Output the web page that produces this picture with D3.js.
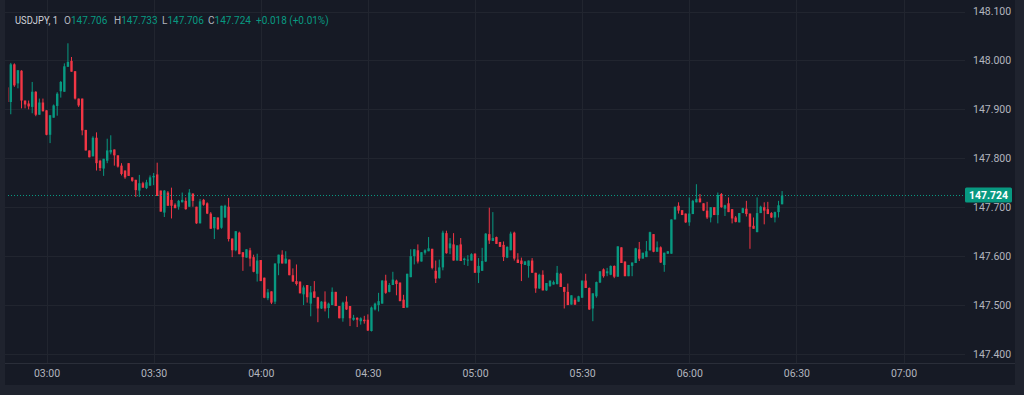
<!DOCTYPE html>
<html>
<head>
<meta charset="utf-8">
<script src="https://cdn.jsdelivr.net/npm/d3@7"></script>
<style>
  html, body { margin: 0; padding: 0; background: #1f232e; }
  svg { display: block; }
  text { font-family: Roboto, "Liberation Sans", sans-serif; }
</style>
</head>
<body>
<svg id="chart" width="1024" height="395"></svg>
<script>
// ---- DATA (1-minute USDJPY candles, first candle 02:49) ----
const symbol = "USDJPY, 1";
const startTime = "02:49";
const opens = [
147.945,147.915,147.992,147.953,147.979,147.918,147.912,147.905,147.936,147.889,
147.914,147.898,147.848,147.883,147.907,147.937,147.936,147.987,147.999,147.978,
147.922,147.922,147.858,147.816,147.804,147.842,147.795,147.779,147.795,147.812,
147.818,147.806,147.785,147.775,147.790,147.761,147.756,147.734,147.749,147.739,
147.744,147.761,147.767,147.734,147.689,147.730,147.715,147.705,147.701,147.710,
147.713,147.701,147.728,147.701,147.667,147.715,147.708,147.687,147.657,147.679,
147.658,147.679,147.701,147.636,147.612,147.648,147.608,147.597,147.612,147.598,
147.564,147.592,147.556,147.514,147.528,147.507,147.585,147.603,147.585,147.593,
147.561,147.549,147.548,147.522,147.541,147.503,147.528,147.516,147.493,147.507,
147.494,147.500,147.527,147.498,147.473,147.507,147.498,147.470,147.474,147.467,
147.470,147.470,147.447,147.491,147.500,147.503,147.550,147.527,147.541,147.550,
147.546,147.511,147.495,147.557,147.600,147.612,147.589,147.607,147.610,147.615,
147.570,147.555,147.577,147.647,147.616,147.624,147.591,147.624,147.592,147.591,
147.591,147.605,147.566,147.570,147.589,147.645,147.631,147.639,147.629,147.623,
147.597,147.612,147.648,147.593,147.591,147.582,147.580,147.591,147.566,147.534,
147.562,147.530,147.539,147.542,147.543,147.564,147.537,147.527,147.501,147.511,
147.507,147.515,147.550,147.535,147.493,147.518,147.546,147.573,147.565,147.562,
147.580,147.558,147.618,147.589,147.559,147.580,147.586,147.614,147.595,147.598,
147.612,147.645,147.609,147.618,147.582,147.605,147.605,147.675,147.703,147.694,
147.687,147.669,147.686,147.710,147.718,147.708,147.693,147.679,147.700,147.684,
147.727,147.697,147.708,147.696,147.679,147.669,147.688,147.697,147.687,147.662,
147.649,147.688,147.700,147.696,147.688,147.679,147.690,147.706];
const highs = [
147.950,147.995,147.994,147.980,147.980,147.918,147.918,147.956,147.937,147.922,
147.922,147.898,147.888,147.910,147.935,147.958,147.994,148.035,148.007,147.978,
147.922,147.922,147.858,147.816,147.845,147.853,147.797,147.799,147.840,147.847,
147.818,147.806,147.790,147.775,147.790,147.761,147.756,147.766,147.752,147.756,
147.765,147.770,147.791,147.734,147.735,147.733,147.740,147.708,147.715,147.730,
147.720,147.737,147.728,147.701,147.717,147.717,147.710,147.690,147.680,147.679,
147.703,147.705,147.719,147.636,147.651,147.650,147.608,147.614,147.617,147.603,
147.605,147.592,147.556,147.533,147.528,147.585,147.603,147.612,147.610,147.593,
147.575,147.583,147.548,147.540,147.541,147.539,147.549,147.517,147.508,147.528,
147.505,147.536,147.527,147.498,147.507,147.518,147.498,147.480,147.475,147.475,
147.478,147.481,147.497,147.505,147.525,147.551,147.562,147.545,147.568,147.552,
147.546,147.521,147.564,147.614,147.614,147.624,147.608,147.614,147.639,147.615,
147.591,147.593,147.652,147.652,147.637,147.647,147.622,147.637,147.597,147.602,
147.606,147.606,147.596,147.617,147.647,147.699,147.690,147.640,147.629,147.630,
147.620,147.650,147.650,147.606,147.597,147.590,147.591,147.596,147.566,147.564,
147.571,147.545,147.550,147.550,147.580,147.566,147.537,147.544,147.520,147.515,
147.519,147.550,147.564,147.536,147.524,147.548,147.569,147.575,147.576,147.581,
147.581,147.620,147.618,147.589,147.582,147.587,147.617,147.629,147.607,147.631,
147.650,147.645,147.630,147.620,147.607,147.610,147.675,147.701,147.710,147.694,
147.687,147.720,147.715,147.747,147.727,147.708,147.711,147.700,147.700,147.730,
147.729,147.705,147.720,147.696,147.682,147.688,147.699,147.713,147.687,147.679,
147.720,147.703,147.710,147.711,147.690,147.691,147.713,147.733];
const lows = [
147.910,147.890,147.946,147.943,147.902,147.902,147.900,147.892,147.886,147.889,
147.896,147.847,147.831,147.883,147.887,147.924,147.936,147.987,147.977,147.920,
147.905,147.847,147.816,147.802,147.804,147.775,147.774,147.764,147.790,147.808,
147.785,147.781,147.765,147.758,147.764,147.752,147.721,147.721,147.740,147.737,
147.744,147.745,147.723,147.691,147.680,147.703,147.677,147.698,147.695,147.710,
147.695,147.701,147.701,147.666,147.667,147.703,147.686,147.656,147.635,147.654,
147.656,147.678,147.630,147.598,147.610,147.604,147.570,147.597,147.579,147.567,
147.548,147.549,147.514,147.510,147.502,147.502,147.561,147.585,147.585,147.561,
147.548,147.540,147.524,147.500,147.505,147.477,147.515,147.465,147.492,147.487,
147.473,147.500,147.498,147.473,147.466,147.490,147.457,147.468,147.455,147.460,
147.462,147.447,147.446,147.489,147.487,147.503,147.523,147.526,147.541,147.520,
147.508,147.494,147.495,147.557,147.583,147.585,147.589,147.603,147.610,147.573,
147.545,147.554,147.571,147.605,147.604,147.591,147.591,147.590,147.582,147.580,
147.591,147.566,147.545,147.570,147.588,147.625,147.631,147.625,147.619,147.590,
147.596,147.612,147.591,147.586,147.549,147.582,147.556,147.566,147.525,147.533,
147.530,147.529,147.537,147.542,147.542,147.537,147.493,147.500,147.501,147.500,
147.507,147.515,147.535,147.490,147.467,147.515,147.545,147.556,147.559,147.561,
147.555,147.558,147.586,147.559,147.559,147.559,147.586,147.590,147.595,147.598,
147.611,147.608,147.609,147.586,147.568,147.605,147.605,147.675,147.687,147.684,
147.668,147.662,147.686,147.710,147.710,147.692,147.676,147.669,147.684,147.667,
147.699,147.682,147.690,147.667,147.669,147.669,147.688,147.681,147.615,147.656,
147.649,147.688,147.665,147.686,147.678,147.669,147.679,147.706];
const closes = [
147.915,147.992,147.949,147.980,147.918,147.910,147.906,147.936,147.889,147.914,
147.896,147.848,147.888,147.908,147.932,147.956,147.988,147.997,147.977,147.922,
147.908,147.857,147.816,147.802,147.842,147.790,147.780,147.799,147.816,147.817,
147.806,147.783,147.768,147.761,147.764,147.754,147.735,147.749,147.740,147.751,
147.761,147.764,147.723,147.691,147.734,147.703,147.703,147.698,147.713,147.715,
147.696,147.730,147.713,147.667,147.712,147.705,147.687,147.656,147.680,147.655,
147.703,147.703,147.635,147.612,147.651,147.604,147.598,147.614,147.595,147.568,
147.591,147.549,147.515,147.526,147.505,147.585,147.603,147.585,147.595,147.561,
147.548,147.543,147.524,147.536,147.516,147.526,147.515,147.493,147.507,147.493,
147.503,147.527,147.498,147.473,147.505,147.491,147.473,147.474,147.470,147.473,
147.467,147.448,147.495,147.503,147.508,147.550,147.525,147.541,147.552,147.543,
147.508,147.494,147.564,147.600,147.614,147.589,147.608,147.612,147.616,147.576,
147.554,147.577,147.648,147.606,147.626,147.591,147.622,147.590,147.595,147.593,
147.604,147.566,147.580,147.590,147.646,147.632,147.637,147.625,147.619,147.598,
147.619,147.646,147.595,147.586,147.584,147.589,147.591,147.566,147.534,147.562,
147.530,147.545,147.550,147.547,147.566,147.537,147.527,147.500,147.520,147.501,
147.518,147.550,147.535,147.491,147.524,147.547,147.569,147.559,147.569,147.580,
147.558,147.620,147.586,147.559,147.582,147.587,147.616,147.595,147.607,147.610,
147.649,147.609,147.618,147.587,147.607,147.610,147.675,147.701,147.693,147.684,
147.669,147.687,147.713,147.717,147.710,147.693,147.679,147.700,147.684,147.725,
147.700,147.704,147.690,147.677,147.670,147.688,147.698,147.686,147.660,147.656,
147.688,147.701,147.693,147.686,147.679,147.690,147.704,147.724];
const priceTicks = [147.4, 147.5, 147.6, 147.7, 147.8, 147.9, 148.0, 148.1];
const timeTicks = ["03:00","03:30","04:00","04:30","05:00","05:30","06:00","06:30","07:00"];
const lastPrice = 147.724;
const change = "+0.018 (+0.01%)";

// ---- LAYOUT ----
const W = 1024, H = 395;
const pane = {left: 5, top: 0, right: 1015, bottom: 385};
const plotRight = 965, axisY = 363;
const upColor = "#089981", downColor = "#f23645";
const gridColor = "#21252f";
const axisText = "#b2b5be";
const fontFam = "Roboto, 'Liberation Sans', sans-serif";

const parseT = d3.timeParse("%H:%M");
const t0 = parseT(startTime);
const dates = opens.map((_, i) => d3.timeMinute.offset(t0, i));
const candles = opens.map((o, i) => ({t: dates[i], o, h: highs[i], l: lows[i], c: closes[i]}));

const x = d3.scaleTime().domain([parseT("03:00"), parseT("07:00")]).range([46.5, 903.5]);
const y = d3.scaleLinear().domain([147.4, 148.1]).range([354, 11.5]);

const svg = d3.select("#chart");
svg.append("rect").attr("x", 0).attr("y", 0).attr("width", W).attr("height", H).attr("fill", "#1f232e");
svg.append("rect").attr("x", pane.left).attr("y", pane.top)
  .attr("width", pane.right - pane.left).attr("height", pane.bottom - pane.top)
  .attr("fill", "#161a25");

svg.append("defs").append("clipPath").attr("id", "plotclip")
  .append("rect").attr("x", 8).attr("y", 0).attr("width", plotRight - 8).attr("height", axisY);

// grid
const grid = svg.append("g");
grid.selectAll("line.h").data(priceTicks).join("line")
  .attr("x1", pane.left).attr("x2", plotRight)
  .attr("y1", d => Math.round(y(d)) + 0.5).attr("y2", d => Math.round(y(d)) + 0.5)
  .attr("stroke", gridColor).attr("stroke-width", 1);
grid.selectAll("line.v").data(timeTicks).join("line")
  .attr("x1", d => Math.round(x(parseT(d))) + 0.5).attr("x2", d => Math.round(x(parseT(d))) + 0.5)
  .attr("y1", pane.top).attr("y2", axisY)
  .attr("stroke", gridColor).attr("stroke-width", 1);

// time axis separator
svg.append("line").attr("x1", pane.left).attr("x2", pane.right)
  .attr("y1", axisY + 0.5).attr("y2", axisY + 0.5).attr("stroke", "#2a2e39");

// candles
const g = svg.append("g").attr("clip-path", "url(#plotclip)");
const bw = 2.4;
const cg = g.selectAll("g.c").data(candles).join("g");
cg.append("line")
  .attr("x1", d => x(d.t)).attr("x2", d => x(d.t))
  .attr("y1", d => y(d.h)).attr("y2", d => y(d.l))
  .attr("stroke", d => d.c >= d.o ? upColor : downColor).attr("stroke-width", 1);
cg.append("rect")
  .attr("x", d => x(d.t) - bw / 2)
  .attr("y", d => y(Math.max(d.o, d.c)))
  .attr("width", bw)
  .attr("height", d => Math.max(1, Math.abs(y(d.o) - y(d.c))))
  .attr("fill", d => d.c >= d.o ? upColor : downColor);

// last price line
svg.append("line").attr("x1", 8).attr("x2", plotRight)
  .attr("y1", Math.round(y(lastPrice)) + 0.5).attr("y2", Math.round(y(lastPrice)) + 0.5)
  .attr("stroke", upColor).attr("stroke-width", 1).attr("stroke-dasharray", "1,2");

// price axis labels
const yAxis = d3.axisRight(y).tickValues(priceTicks).tickFormat(d3.format(".3f")).tickSize(0).tickPadding(0);
const ya = svg.append("g").attr("transform", `translate(${plotRight + 8},0)`).call(yAxis);
ya.select(".domain").remove();
ya.selectAll("text").attr("fill", axisText).attr("font-size", "10.5px").attr("font-family", fontFam);

// last price tag
const ty = y(lastPrice);
svg.append("rect").attr("x", plotRight).attr("y", ty - 8).attr("width", 47).attr("height", 15)
  .attr("rx", 1.5).attr("fill", upColor);
svg.append("text").attr("x", plotRight + 23.5).attr("y", ty + 3.8).attr("text-anchor", "middle")
  .attr("fill", "#ffffff").attr("font-size", "10.5px").attr("font-weight", "bold")
  .text(d3.format(".3f")(lastPrice));

// time axis labels
const xAxis = d3.axisBottom(x).tickValues(timeTicks.map(parseT)).tickFormat(d3.timeFormat("%H:%M")).tickSize(0).tickPadding(0);
const xa = svg.append("g").attr("transform", `translate(0,${axisY + 7})`).call(xAxis);
xa.select(".domain").remove();
xa.selectAll("text").attr("fill", axisText).attr("font-size", "10.5px").attr("font-family", fontFam);

// header legend
const last = candles[candles.length - 1];
const f3 = d3.format(".3f");
const hdr = svg.append("text").attr("y", 24).attr("font-size", "10px");
hdr.append("tspan").attr("x", 15).attr("fill", "#d1d4dc")
  .attr("textLength", 43).attr("lengthAdjust", "spacingAndGlyphs").text(symbol);
const parts = [["O", last.o, 64], ["H", last.h, 114], ["L", last.l, 162], ["C", last.c, 208]];
parts.forEach(([k, v, px]) => {
  hdr.append("tspan").attr("x", px).attr("fill", "#b2b5be").text(k);
  hdr.append("tspan").attr("fill", upColor).text(f3(v));
});
hdr.append("tspan").attr("x", 256).attr("fill", upColor).text(change);
</script>
</body>
</html>
